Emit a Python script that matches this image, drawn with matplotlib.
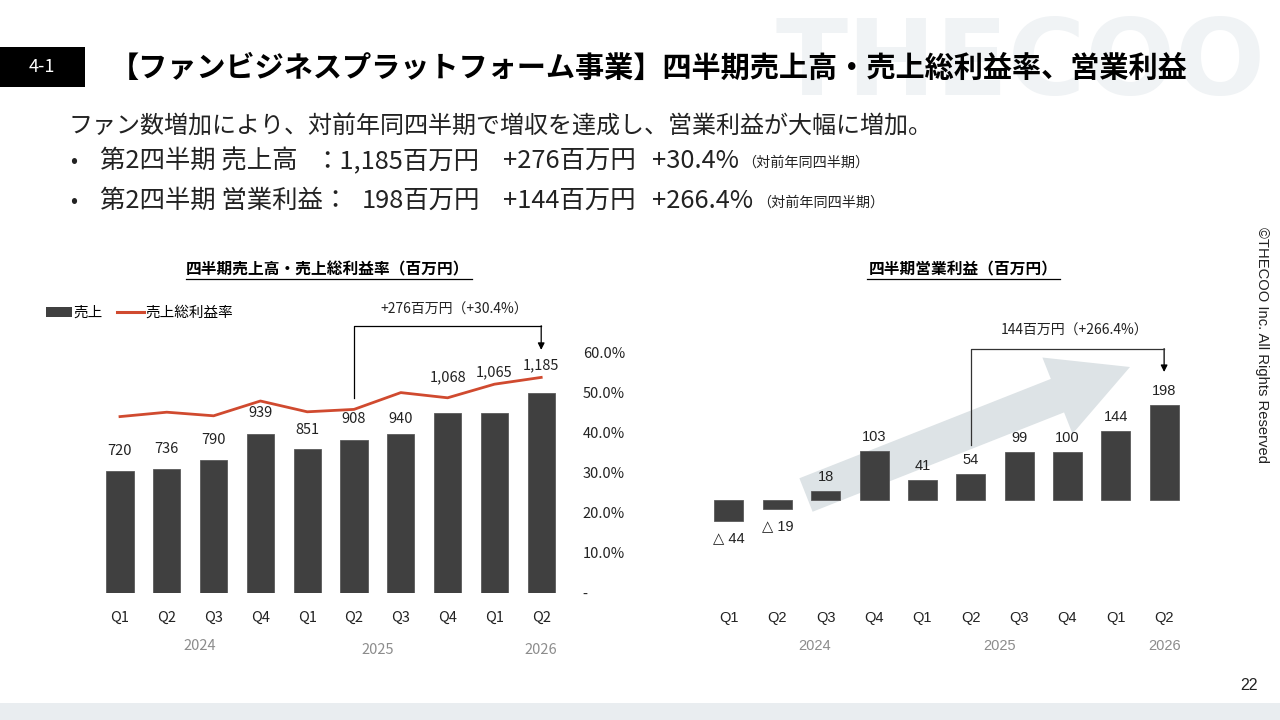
import matplotlib
matplotlib.use("Agg")
import matplotlib.pyplot as plt
from matplotlib.patches import Rectangle, FancyArrow, Patch
from matplotlib.lines import Line2D
from matplotlib import transforms as mtrans
from matplotlib import font_manager as fm

# ---------------- data ----------------
quarters = ["Q1", "Q2", "Q3", "Q4", "Q1", "Q2", "Q3", "Q4", "Q1", "Q2"]
years = ["2024", "2025", "2026"]
sales = [720, 736, 790, 939, 851, 908, 940, 1068, 1065, 1185]
gross_margin = [0.441, 0.452, 0.443, 0.480, 0.453, 0.459, 0.501, 0.488, 0.522, 0.539]
op_profit = [-44, -19, 18, 103, 41, 54, 99, 100, 144, 198]
pct_ticks = [0.0, 0.1, 0.2, 0.3, 0.4, 0.5, 0.6]

# ---------------- style ----------------
JP = ["Noto Sans CJK JP", "DejaVu Sans"]
NUM = ["Liberation Sans", "DejaVu Sans"]
BAR = "#404040"
RED = "#d04a2f"
GRAY_TXT = "#8c8c8c"
TXT = "#222222"
W, H = 1280, 720

plt.rcParams["font.family"] = JP

fig = plt.figure(figsize=(12.8, 7.2), dpi=100)
fig.patch.set_facecolor("white")


def fx(x):
    return x / W


def fy(y):
    return 1 - y / H


def P2F(x, y):
    return (fx(x), fy(y))


renderer = fig.canvas.get_renderer()

# watermark (fit to the reference width)
try:
    fm.findfont(fm.FontProperties(family="Liberation Sans Narrow"), fallback_to_default=False)
    wm_family = ["Liberation Sans Narrow"]
except Exception:
    wm_family = ["DejaVu Sans"]
wm = fig.text(fx(775), fy(95), "THECOO", ha="left", va="baseline", fontsize=110,
              fontweight="bold", color="#f0f3f5", family=wm_family, zorder=0)
bb = wm.get_window_extent(renderer)
wm.set_fontsize(110 * 490 / bb.width)

# header box
fig.patches.append(Rectangle(P2F(0, 87), fx(85), 40 / H, transform=fig.transFigure,
                             facecolor="black", edgecolor="none"))
fig.text(fx(42), fy(67), "4-1", color="white", fontsize=13, ha="center", va="center")
fig.text(fx(110), fy(68), "【ファンビジネスプラットフォーム事業】四半期売上高・売上総利益率、営業利益",
         fontsize=21, fontweight="bold", ha="left", va="center", color="black")

# subtitle
fig.text(fx(69), fy(127), "ファン数増加により、対前年同四半期で増収を達成し、営業利益が大幅に増加。",
         fontsize=17.3, ha="left", va="center", color=TXT)

BFS = 18.3
line2 = [(100, "第2四半期 売上高"), (314, "：1,185百万円"), (503, "+276百万円"), (652, "+30.4%")]
line3 = [(100, "第2四半期 営業利益："), (362, "198百万円"), (503, "+144百万円"), (652, "+266.4%")]
for yy, segs, small_x in [(161, line2, 742), (201, line3, 757)]:
    fig.text(fx(74), fy(yy), "•", fontsize=15, ha="center", va="center", color=TXT)
    for xx, s in segs:
        fig.text(fx(xx), fy(yy), s, fontsize=BFS, ha="left", va="center", color=TXT)
    fig.text(fx(small_x), fy(yy + 2), "（対前年同四半期）", fontsize=10.2, ha="left",
             va="center", color=TXT)

# chart titles (underlined)
fig.text(fx(328), fy(269), "四半期売上高・売上総利益率（百万円）", fontsize=11.3,
         fontweight="bold", ha="center", va="center")
fig.add_artist(Line2D([fx(186), fx(472)], [fy(279), fy(279)], color="black", lw=0.9,
                      transform=fig.transFigure))
fig.text(fx(963), fy(269), "四半期営業利益（百万円）", fontsize=11.3,
         fontweight="bold", ha="center", va="center")
fig.add_artist(Line2D([fx(867), fx(1060)], [fy(279), fy(279)], color="black", lw=0.9,
                      transform=fig.transFigure))

# copyright & page number & footer
fig.text(fx(1262), fy(345), "©THECOO Inc. All Rights Reserved", rotation=270,
         fontsize=10.6, ha="center", va="center", family=NUM, color=TXT)
fig.text(fx(1249), fy(686), "22", fontsize=11.5, ha="center", va="center", family=NUM,
         color=TXT)
fig.patches.append(Rectangle((0, 0), 1, 17 / H, transform=fig.transFigure,
                             facecolor="#e9edf0", edgecolor="none"))

# ---------------- left chart ----------------
x = list(range(len(quarters)))
L_PX = 0.16883  # pixels per million yen
axL = fig.add_axes([fx(96.6), fy(593), (564.6 - 96.6) / W, 293 / H])
axL.set_facecolor("none")
axL.set_xlim(-0.5, 9.5)
axL.set_ylim(0, 293 / L_PX)
axL.bar(x, sales, width=0.58, color=BAR, edgecolor="#5a5a5a", linewidth=0.6, zorder=2)
for s in axL.spines.values():
    s.set_visible(False)
axL.set_yticks([])
axL.set_xticks(x, quarters)
axL.tick_params(axis="x", length=0, pad=13, labelsize=10.5, labelcolor=TXT)

axR = axL.twinx()
axR.set_ylim(0, 0.6 * 293 / 240)
axR.plot(x, gross_margin, color=RED, lw=2.0, zorder=3)
for s in axR.spines.values():
    s.set_visible(False)
axR.set_yticks(pct_ticks, ["-" if v == 0 else f"{v*100:.1f}%" for v in pct_ticks])
axR.tick_params(axis="y", length=0, pad=13, labelsize=10.5, labelcolor=TXT)

sales_label_offsets_px = [20, 20, 20, 21, 19, 21, 15, 35, 41, 28]
for i, v in enumerate(sales):
    axL.annotate(f"{v:,}", xy=(i, v), xytext=(0, sales_label_offsets_px[i] * 0.72),
                 textcoords="offset points", ha="center", va="center",
                 fontsize=10.5, color=TXT, zorder=4)

# bracket annotation (left)
axL.plot([5, 5, 9], [1155, 1582, 1582], color="black", lw=0.9, clip_on=False, zorder=5)
axL.annotate("", xy=(9, 1440), xytext=(9, 1583),
             arrowprops=dict(arrowstyle="-|>", color="black", lw=0.9, mutation_scale=10,
                             shrinkA=0, shrinkB=0), annotation_clip=False)
axL.text(7.15, 1677, "+276百万円（+30.4%）", ha="center", va="center", fontsize=10,
         color=TXT)

# legend
axL.legend(handles=[Patch(facecolor=BAR, edgecolor="none", label="売上"),
                    Line2D([0], [0], color=RED, lw=2.2, label="売上総利益率")],
           loc="center left", bbox_to_anchor=P2F(40, 313),
           bbox_transform=fig.transFigure, ncol=2, frameon=False,
           fontsize=10.5, handlelength=1.8, handletextpad=0.1, columnspacing=1.0,
           borderaxespad=0)

# year labels (left)
blendL = mtrans.blended_transform_factory(axL.transData, fig.transFigure)
for yr, xp, yp in zip(years, [1.7, 5.5, 9.0], [646, 650, 650]):
    axL.text(xp, fy(yp), yr, transform=blendL, ha="center", va="center",
             fontsize=10.5, color=GRAY_TXT)

# ---------------- right chart ----------------
R_PX = 95 / 198
axO = fig.add_axes([fx(704.8), fy(593), (1188.3 - 704.8) / W, 293 / H])
axO.set_facecolor("none")
axO.set_xlim(-0.5, 9.5)
axO.set_ylim(-(593 - 500) / R_PX, (500 - 300) / R_PX)
axO.bar(x, op_profit, width=0.6, color=BAR, edgecolor="#5a5a5a", linewidth=0.6, zorder=2)
for s in axO.spines.values():
    s.set_visible(False)
axO.set_yticks([])
axO.set_xticks(x, quarters)
axO.tick_params(axis="x", length=0, pad=13, labelsize=10.5, labelcolor=TXT)
for lbl in axO.get_xticklabels():
    lbl.set_family(NUM)

# decorative trend arrow (pixel coordinates, behind bars)
ident = mtrans.IdentityTransform()
x0, y0, x1, y1 = 806, 720 - 495, 1130, 720 - 367
arr = FancyArrow(x0, y0, x1 - x0, y1 - y0, width=36, head_width=82, head_length=78,
                 length_includes_head=True, transform=ident, facecolor="#dde3e6",
                 edgecolor="none", zorder=1, clip_on=False)
axO.add_patch(arr)

for i, v in enumerate(op_profit):
    if v >= 0:
        axO.annotate(f"{v}", xy=(i, v), xytext=(0, 14 * 0.72), textcoords="offset points",
                     ha="center", va="center", fontsize=10.5, family=NUM, color=TXT)
    else:
        axO.annotate(f"△ {abs(v)}", xy=(i, v), xytext=(0, -17 * 0.72),
                     textcoords="offset points", ha="center", va="center",
                     fontsize=10.5, family=NUM, color=TXT)

# bracket annotation (right)
axO.plot([5, 5, 9], [114.6, 314.7, 314.7], color="#333333", lw=0.9, clip_on=False, zorder=5)
axO.annotate("", xy=(9, 266.8), xytext=(9, 315.5),
             arrowprops=dict(arrowstyle="-|>", color="black", lw=0.9, mutation_scale=10,
                             shrinkA=0, shrinkB=0), annotation_clip=False)
axO.text(7.15, 352, "144百万円（+266.4%）", ha="center", va="center", fontsize=10,
         color=TXT)

blendO = mtrans.blended_transform_factory(axO.transData, fig.transFigure)
for yr, xp in zip(years, [1.76, 5.6, 9.0]):
    axO.text(xp, fy(646), yr, transform=blendO, ha="center", va="center",
             fontsize=10.5, color=GRAY_TXT, family=NUM)

fig.savefig("out.png", dpi=100)
